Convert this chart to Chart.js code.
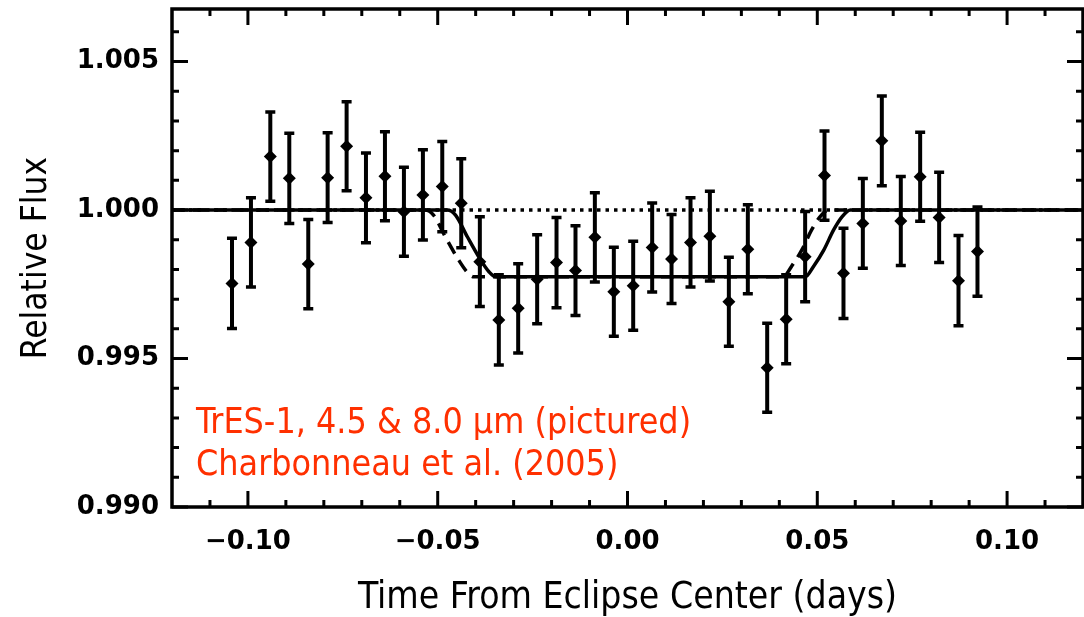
<!DOCTYPE html>
<html>
<head>
<meta charset="utf-8">
<script src="https://cdn.jsdelivr.net/npm/chart.js@4.4.0/dist/chart.umd.min.js"></script>
<style>
  html, body { margin: 0; padding: 0; background: #fff; overflow: hidden; }
  canvas { display: block; }
</style>
</head>
<body>
<canvas id="flux" width="1084" height="617"></canvas>
<script>
"use strict";

// binned photometry: days from eclipse centre, relative flux, 1-sigma error
const times = [
  -0.1042, -0.0992, -0.0941, -0.0891, -0.0841, -0.0790, -0.0740, -0.0689, -0.0639, -0.0589,
  -0.0539, -0.0488, -0.0438, -0.0389, -0.0339, -0.0288, -0.0238, -0.0187, -0.0137, -0.0086,
  -0.0036,  0.0015,  0.0065,  0.0116,  0.0166,  0.0217,  0.0267,  0.0317,  0.0368,  0.0418,
   0.0468,  0.0519,  0.0569,  0.0620,  0.0670,  0.0720,  0.0771,  0.0821,  0.0872,  0.0922
];
const flux = [
  0.99753, 0.99891, 1.00180, 1.00107, 0.99818, 1.00109, 1.00215, 1.00041, 1.00114, 0.99994,
  1.00051, 1.00079, 1.00023, 0.99826, 0.99630, 0.99669, 0.99767, 0.99823, 0.99796, 0.99908,
  0.99725, 0.99745, 0.99874, 0.99835, 0.99891, 0.99912, 0.99691, 0.99868, 0.99469, 0.99632,
  0.99843, 1.00116, 0.99787, 0.99955, 1.00233, 0.99963, 1.00112, 0.99975, 0.99762, 0.99860
];
const fluxErr = [
  0.00152, 0.00150, 0.00150, 0.00152, 0.00150, 0.00151, 0.00150, 0.00151, 0.00150, 0.00150,
  0.00152, 0.00152, 0.00150, 0.00151, 0.00152, 0.00150, 0.00150, 0.00152, 0.00151, 0.00150,
  0.00150, 0.00150, 0.00150, 0.00150, 0.00150, 0.00151, 0.00150, 0.00150, 0.00150, 0.00150,
  0.00152, 0.00150, 0.00152, 0.00151, 0.00151, 0.00150, 0.00150, 0.00152, 0.00152, 0.00150
];

// best-fit transit curve
const fitTimes = [-0.12, -0.0475, -0.0453, -0.0422, -0.0387, -0.0365, -0.0347,
                   0.0468, 0.0490, 0.0517, 0.0543, 0.0565, 0.0587, 0.12];
const fitFlux  = [1.0, 1.0, 0.99983, 0.99910, 0.99832, 0.99792, 0.99775,
                  0.99775, 0.99810, 0.99865, 0.99933, 0.99977, 1.0, 1.0];

// curve for the predicted ephemeris
const predTimes = [-0.12, -0.0533, -0.0511, -0.0480, -0.0445, -0.0423, -0.0405,
                    0.0410, 0.0432, 0.0459, 0.0485, 0.0507, 0.0529, 0.12];
const predFlux  = [1.0, 1.0, 0.99983, 0.99910, 0.99832, 0.99792, 0.99775,
                   0.99775, 0.99810, 0.99865, 0.99933, 0.99977, 1.0, 1.0];

// out-of-eclipse level
const baseTimes = [-0.12, 0.12];
const baseFlux  = [1.0, 1.0];

// axis ticks
const xMajor = [-0.10, -0.05, 0.00, 0.05, 0.10];
const xMinor = [-0.11, -0.09, -0.08, -0.07, -0.06, -0.04, -0.03, -0.02, -0.01,
                 0.01, 0.02, 0.03, 0.04, 0.06, 0.07, 0.08, 0.09, 0.11];
const yMajor = [0.990, 0.995, 1.000, 1.005];
const yMinor = [0.991, 0.992, 0.993, 0.994, 0.996, 0.997, 0.998, 0.999,
                1.001, 1.002, 1.003, 1.004, 1.006];

const notes = ['TrES-1, 4.5 & 8.0 µm (pictured)', 'Charbonneau et al. (2005)'];

const pts = (xs, ys) => xs.map((v, i) => ({ x: v, y: ys[i] }));

const TITLE_FONT = '"DejaVu Sans Condensed", "DejaVu Sans", sans-serif';
const TICK_FONT = '"DejaVu Sans", sans-serif';

// vertical error bars with caps
const errorBars = {
  id: 'errorBars',
  afterDatasetsDraw(chart) {
    const { ctx, scales: { x, y } } = chart;
    ctx.save();
    ctx.strokeStyle = '#000';
    times.forEach((t, i) => {
      const px = x.getPixelForValue(t);
      const lo = y.getPixelForValue(flux[i] - fluxErr[i]);
      const hi = y.getPixelForValue(flux[i] + fluxErr[i]);
      ctx.lineWidth = 4;
      ctx.beginPath();
      ctx.moveTo(px, lo);
      ctx.lineTo(px, hi);
      ctx.stroke();
      ctx.lineWidth = 3.5;
      ctx.beginPath();
      ctx.moveTo(px - 5, lo); ctx.lineTo(px + 5, lo);
      ctx.moveTo(px - 5, hi); ctx.lineTo(px + 5, hi);
      ctx.stroke();
    });
    ctx.restore();
  }
};

// closed frame with inward ticks on all four sides, plus the red caption
const frame = {
  id: 'frame',
  afterDraw(chart) {
    const { ctx, chartArea: a, scales: { x, y } } = chart;
    ctx.save();
    ctx.strokeStyle = '#000';
    ctx.lineWidth = 3;
    const xt = (vals, len) => vals.forEach(v => {
      const p = x.getPixelForValue(v);
      ctx.moveTo(p, a.bottom); ctx.lineTo(p, a.bottom - len);
      ctx.moveTo(p, a.top); ctx.lineTo(p, a.top + len);
    });
    const yt = (vals, len) => vals.forEach(v => {
      const p = y.getPixelForValue(v);
      ctx.moveTo(a.left, p); ctx.lineTo(a.left + len, p);
      ctx.moveTo(a.right, p); ctx.lineTo(a.right - len, p);
    });
    ctx.beginPath();
    xt(xMajor, 16); xt(xMinor, 7);
    yt(yMajor, 16); yt(yMinor, 7);
    ctx.stroke();
    ctx.lineWidth = 3.5;
    ctx.strokeRect(a.left, a.top, a.right - a.left, a.bottom - a.top);

    ctx.fillStyle = '#ff3000';
    ctx.font = '35.5px ' + TITLE_FONT;
    ctx.textAlign = 'left';
    ctx.textBaseline = 'alphabetic';
    ctx.fillText(notes[0], a.left + 24, a.bottom - 74);
    ctx.fillText(notes[1], a.left + 24, a.bottom - 32);
    ctx.restore();
  }
};

// keep the plot box where the layout padding puts it
const noEdgePad = s => {
  s.paddingTop = 0; s.paddingBottom = 0;
  s.paddingLeft = 0; s.paddingRight = 0;
};

new Chart(document.getElementById('flux'), {
  type: 'line',
  data: {
    datasets: [
      {
        data: pts(times, flux),
        showLine: false,
        pointStyle: 'rectRot',
        pointRadius: 6.5,
        backgroundColor: '#000',
        borderColor: '#000',
        borderWidth: 0
      },
      {
        data: pts(fitTimes, fitFlux),
        borderColor: '#000',
        borderWidth: 3.5,
        cubicInterpolationMode: 'monotone',
        pointRadius: 0
      },
      {
        data: pts(predTimes, predFlux),
        borderColor: '#000',
        borderWidth: 3.5,
        borderDash: [13, 8],
        cubicInterpolationMode: 'monotone',
        pointRadius: 0
      },
      {
        data: pts(baseTimes, baseFlux),
        borderColor: '#000',
        borderWidth: 3.5,
        borderDash: [3.5, 5],
        pointRadius: 0
      }
    ]
  },
  options: {
    responsive: false,
    animation: false,
    devicePixelRatio: 1,
    layout: { autoPadding: false, padding: { top: 9, right: 1, left: 0, bottom: 0 } },
    plugins: { legend: { display: false }, tooltip: { enabled: false } },
    scales: {
      x: {
        type: 'linear',
        min: -0.12,
        max: 0.12,
        grid: { display: false, drawTicks: false },
        border: { display: false },
        afterBuildTicks: s => { s.ticks = xMajor.map(v => ({ value: v })); },
        afterFit: s => { s.height = 110; noEdgePad(s); },
        ticks: {
          autoSkip: false,
          maxRotation: 0,
          padding: 20,
          color: '#000',
          font: { family: TICK_FONT, size: 26, weight: 'bold' },
          callback: v => (v < 0 ? '\u2212' : '') + Math.abs(v).toFixed(2)
        },
        title: {
          display: true,
          text: 'Time From Eclipse Center (days)',
          color: '#000',
          font: { family: TITLE_FONT, size: 37 },
          padding: { top: 0, bottom: -4 }
        }
      },
      y: {
        type: 'linear',
        min: 0.990,
        max: 1.00677,
        grid: { display: false, drawTicks: false },
        border: { display: false },
        afterBuildTicks: s => { s.ticks = yMajor.map(v => ({ value: v })); },
        afterFit: s => { s.width = 172; noEdgePad(s); },
        ticks: {
          autoSkip: false,
          padding: 13,
          color: '#000',
          font: { family: TICK_FONT, size: 26, weight: 'bold' },
          callback: v => v.toFixed(3)
        },
        title: {
          display: true,
          text: 'Relative Flux',
          color: '#000',
          font: { family: TITLE_FONT, size: 35 },
          padding: { top: 16, bottom: 0 }
        }
      }
    }
  },
  plugins: [errorBars, frame]
});
</script>
</body>
</html>
